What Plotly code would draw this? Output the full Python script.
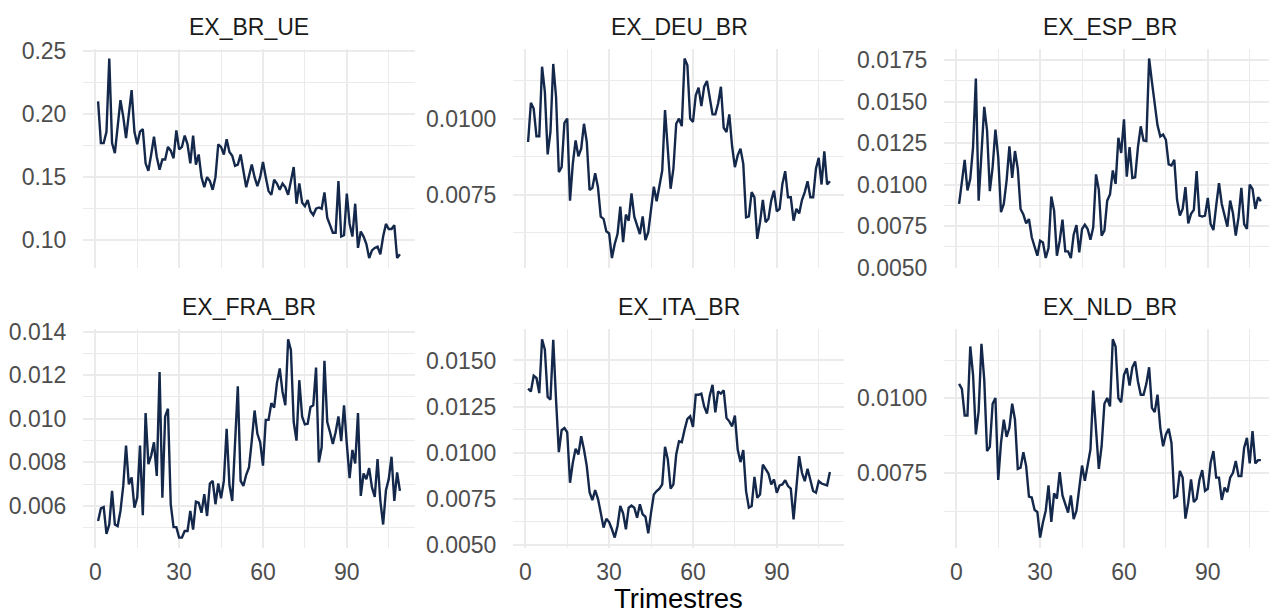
import plotly.graph_objects as go

W, H = 1269, 615

trimestres = list(range(1, 110))

series_names = ["EX_BR_UE", "EX_DEU_BR", "EX_ESP_BR", "EX_FRA_BR", "EX_ITA_BR", "EX_NLD_BR"]

ex_br_ue = [0.210, 0.177, 0.177, 0.186, 0.244, 0.177, 0.169, 0.190, 0.211, 0.198,
            0.181, 0.200, 0.219, 0.186, 0.176, 0.186, 0.188, 0.161, 0.155, 0.168,
            0.182, 0.166, 0.156, 0.164, 0.164, 0.174, 0.171, 0.165, 0.187, 0.172,
            0.174, 0.183, 0.176, 0.161, 0.183, 0.160, 0.168, 0.150, 0.142, 0.150,
            0.147, 0.140, 0.150, 0.176, 0.174, 0.168, 0.180, 0.170, 0.167, 0.159,
            0.160, 0.168, 0.154, 0.142, 0.151, 0.160, 0.150, 0.143, 0.150, 0.162,
            0.150, 0.139, 0.136, 0.148, 0.145, 0.140, 0.145, 0.142, 0.136, 0.146,
            0.158, 0.129, 0.145, 0.130, 0.127, 0.132, 0.123, 0.120, 0.125, 0.126,
            0.125, 0.138, 0.118, 0.112, 0.106, 0.106, 0.147, 0.103, 0.104, 0.137,
            0.113, 0.103, 0.129, 0.094, 0.107, 0.103, 0.097, 0.086, 0.092, 0.094,
            0.095, 0.089, 0.103, 0.113, 0.109, 0.109, 0.112, 0.086, 0.089]

ex_deu_br = [0.00923, 0.01052, 0.01033, 0.00942, 0.00942, 0.01171, 0.01088, 0.00882, 0.00956, 0.01180,
             0.01072, 0.00824, 0.00840, 0.00986, 0.01000, 0.00730, 0.00851, 0.00928, 0.00876, 0.00901,
             0.00983, 0.00923, 0.00765, 0.00772, 0.00820, 0.00774, 0.00677, 0.00670, 0.00629, 0.00622,
             0.00541, 0.00587, 0.00620, 0.00710, 0.00593, 0.00684, 0.00664, 0.00754, 0.00677, 0.00648,
             0.00620, 0.00678, 0.00600, 0.00626, 0.00697, 0.00776, 0.00728, 0.00774, 0.00829, 0.01028,
             0.00884, 0.00769, 0.00835, 0.00983, 0.01000, 0.00975, 0.01198, 0.01176, 0.01000, 0.00989,
             0.01077, 0.01102, 0.01041, 0.01105, 0.01124, 0.01061, 0.01014, 0.01014, 0.01050, 0.01105,
             0.00970, 0.00956, 0.01014, 0.00909, 0.00840, 0.00879, 0.00901, 0.00851, 0.00675, 0.00678,
             0.00758, 0.00741, 0.00604, 0.00659, 0.00732, 0.00659, 0.00670, 0.00730, 0.00763, 0.00695,
             0.00703, 0.00785, 0.00827, 0.00741, 0.00741, 0.00664, 0.00703, 0.00688, 0.00732, 0.00758,
             0.00794, 0.00741, 0.00741, 0.00835, 0.00871, 0.00783, 0.00892, 0.00783, 0.00794]

ex_esp_br = [0.00883, 0.01014, 0.01149, 0.00964, 0.01034, 0.01226, 0.01639, 0.00903, 0.01196, 0.01468,
             0.01327, 0.00960, 0.01105, 0.01331, 0.01165, 0.00833, 0.00883, 0.01024, 0.01230, 0.01040,
             0.01202, 0.01095, 0.00853, 0.00819, 0.00766, 0.00792, 0.00682, 0.00625, 0.00571, 0.00661,
             0.00651, 0.00557, 0.00617, 0.00928, 0.00843, 0.00571, 0.00661, 0.00788, 0.00597, 0.00597,
             0.00557, 0.00698, 0.00756, 0.00591, 0.00732, 0.00758, 0.00732, 0.00667, 0.00742, 0.01061,
             0.00968, 0.00692, 0.00722, 0.00903, 0.00940, 0.01085, 0.01004, 0.01282, 0.01190, 0.01393,
             0.01048, 0.01226, 0.01040, 0.01044, 0.01226, 0.01351, 0.01266, 0.01262, 0.01760, 0.01619,
             0.01478, 0.01357, 0.01290, 0.01302, 0.01270, 0.01121, 0.01115, 0.01149, 0.00907, 0.00813,
             0.00853, 0.00984, 0.00766, 0.00823, 0.00847, 0.01081, 0.00813, 0.00807, 0.00813, 0.00919,
             0.00762, 0.00726, 0.00873, 0.01008, 0.00883, 0.00819, 0.00746, 0.00903, 0.00827, 0.00692,
             0.00803, 0.00980, 0.00762, 0.00732, 0.01000, 0.00974, 0.00853, 0.00923, 0.00899]

ex_fra_br = [0.00531, 0.00589, 0.00595, 0.00472, 0.00515, 0.00669, 0.00515, 0.00508, 0.00577, 0.00692,
             0.00877, 0.00700, 0.00731, 0.00592, 0.00638, 0.00877, 0.00558, 0.01026, 0.00792, 0.00831,
             0.00892, 0.00738, 0.01215, 0.00638, 0.01011, 0.01046, 0.00608, 0.00503, 0.00503, 0.00455,
             0.00455, 0.00485, 0.00485, 0.00577, 0.00492, 0.00620, 0.00615, 0.00569, 0.00654, 0.00554,
             0.00703, 0.00715, 0.00608, 0.00703, 0.00635, 0.00715, 0.00954, 0.00697, 0.00623, 0.00885,
             0.01149, 0.00715, 0.00692, 0.00743, 0.00777, 0.00900, 0.01038, 0.00931, 0.00892, 0.00785,
             0.00995, 0.00995, 0.01072, 0.01051, 0.01165, 0.01231, 0.01123, 0.01062, 0.01365, 0.01315,
             0.00985, 0.00900, 0.01177, 0.01011, 0.00974, 0.00977, 0.01054, 0.01062, 0.01235, 0.00800,
             0.00869, 0.01266, 0.00985, 0.00938, 0.00885, 0.00938, 0.01011, 0.00897, 0.01062, 0.00885,
             0.00728, 0.00857, 0.00795, 0.01026, 0.00646, 0.00749, 0.00723, 0.00774, 0.00685, 0.00642,
             0.00815, 0.00623, 0.00515, 0.00672, 0.00723, 0.00826, 0.00623, 0.00754, 0.00669]

ex_ita_br = [0.01347, 0.01332, 0.01417, 0.01405, 0.01323, 0.01615, 0.01558, 0.01302, 0.01287, 0.01612,
             0.01287, 0.01003, 0.01122, 0.01134, 0.01111, 0.00837, 0.00945, 0.01021, 0.00990, 0.01089,
             0.01017, 0.00927, 0.00786, 0.00743, 0.00797, 0.00750, 0.00675, 0.00594, 0.00642, 0.00624,
             0.00585, 0.00540, 0.00603, 0.00711, 0.00671, 0.00585, 0.00702, 0.00714, 0.00702, 0.00648,
             0.00720, 0.00666, 0.00653, 0.00563, 0.00675, 0.00774, 0.00792, 0.00805, 0.00828, 0.01032,
             0.00963, 0.00805, 0.00828, 0.00990, 0.01062, 0.01057, 0.01125, 0.01183, 0.01197, 0.01140,
             0.01314, 0.01314, 0.01320, 0.01251, 0.01212, 0.01309, 0.01368, 0.01219, 0.01332, 0.01320,
             0.01338, 0.01188, 0.01170, 0.01143, 0.01201, 0.01017, 0.00949, 0.01014, 0.00792, 0.00702,
             0.00711, 0.00869, 0.00756, 0.00774, 0.00936, 0.00913, 0.00887, 0.00828, 0.00855, 0.00783,
             0.00823, 0.00828, 0.00851, 0.00819, 0.00805, 0.00639, 0.00810, 0.00981, 0.00891, 0.00846,
             0.00913, 0.00855, 0.00792, 0.00783, 0.00846, 0.00833, 0.00828, 0.00823, 0.00895]

ex_nld_br = [0.01047, 0.01030, 0.00942, 0.00942, 0.01171, 0.01077, 0.00879, 0.00956, 0.01180, 0.01061,
             0.00824, 0.00838, 0.00981, 0.01000, 0.00728, 0.00851, 0.00928, 0.00871, 0.00901, 0.00981,
             0.00928, 0.00765, 0.00769, 0.00820, 0.00774, 0.00673, 0.00670, 0.00629, 0.00622, 0.00537,
             0.00587, 0.00626, 0.00710, 0.00589, 0.00684, 0.00666, 0.00754, 0.00677, 0.00648, 0.00620,
             0.00677, 0.00598, 0.00626, 0.00697, 0.00776, 0.00725, 0.00774, 0.00829, 0.01025, 0.00882,
             0.00765, 0.00840, 0.00981, 0.01000, 0.00972, 0.01195, 0.01171, 0.01000, 0.00986, 0.01077,
             0.01099, 0.01041, 0.01102, 0.01121, 0.01055, 0.01011, 0.01011, 0.01047, 0.01102, 0.00967,
             0.00953, 0.01011, 0.00901, 0.00840, 0.00879, 0.00898, 0.00851, 0.00670, 0.00675, 0.00758,
             0.00736, 0.00600, 0.00653, 0.00730, 0.00655, 0.00666, 0.00728, 0.00761, 0.00692, 0.00699,
             0.00785, 0.00824, 0.00736, 0.00736, 0.00662, 0.00703, 0.00688, 0.00736, 0.00752, 0.00791,
             0.00741, 0.00741, 0.00835, 0.00868, 0.00783, 0.00890, 0.00783, 0.00794, 0.00794]

x_major = [0, 30, 60, 90]
x_minor = [15, 45, 75, 105]
x_tick_labels = ["0", "30", "60", "90"]

y_major = [
    [0.10, 0.15, 0.20, 0.25],
    [0.0075, 0.0100],
    [0.0050, 0.0075, 0.0100, 0.0125, 0.0150, 0.0175],
    [0.006, 0.008, 0.010, 0.012, 0.014],
    [0.0050, 0.0075, 0.0100, 0.0125, 0.0150],
    [0.0075, 0.0100],
]
y_tick_labels = [
    ["0.10", "0.15", "0.20", "0.25"],
    ["0.0075", "0.0100"],
    ["0.0050", "0.0075", "0.0100", "0.0125", "0.0150", "0.0175"],
    ["0.006", "0.008", "0.010", "0.012", "0.014"],
    ["0.0050", "0.0075", "0.0100", "0.0125", "0.0150"],
    ["0.0075", "0.0100"],
]
y_minor = [
    [0.125, 0.175, 0.225],
    [0.00625, 0.00875, 0.01125],
    [0.00625, 0.00875, 0.01125, 0.01375, 0.01625],
    [0.005, 0.007, 0.009, 0.011, 0.013],
    [0.00625, 0.00875, 0.01125, 0.01375],
    [0.00625, 0.00875, 0.01125],
]

all_series = [ex_br_ue, ex_deu_br, ex_esp_br, ex_fra_br, ex_ita_br, ex_nld_br]

LINE = "#14284B"
GRID = "#EBEBEB"
FONT = "Liberation Sans, Arial, sans-serif"

# pixel layout
col_px = [(83, 415), (513, 844), (944, 1269)]
row_px = [(48.5, 268), (329.3, 547.5)]
x_lo = -4.4
px_per_unit = (415 - 83) / 118.8

fig = go.Figure()
layout = dict(
    template="none",
    width=W, height=H,
    margin=dict(l=0, r=0, t=0, b=0, pad=0, autoexpand=False),
    paper_bgcolor="white", plot_bgcolor="white",
    showlegend=False,
    font=dict(family=FONT),
)
annotations = []

for k, (name, vals) in enumerate(zip(series_names, all_series)):
    r, c = divmod(k, 3)
    ax = "" if k == 0 else str(k + 1)
    fig.add_trace(go.Scatter(
        x=trimestres, y=vals, mode="lines",
        line=dict(color=LINE, width=2.4),
        xaxis="x" + ax, yaxis="y" + ax, hoverinfo="skip",
    ))
    x0, x1 = col_px[c]
    y0, y1 = row_px[r]
    x_hi = x_lo + (x1 - x0) / px_per_unit
    vmin, vmax = min(vals), max(vals)
    pad = 0.05 * (vmax - vmin)
    layout["xaxis" + ax] = dict(
        domain=[x0 / W, x1 / W], anchor="y" + ax,
        range=[x_lo, x_hi], automargin=False,
        tickvals=x_major, ticktext=x_tick_labels,
        showticklabels=(r == 1),
        ticks="outside", ticklen=4, tickcolor="rgba(0,0,0,0)",
        tickfont=dict(size=23, color="#4D4D4D", family=FONT),
        showgrid=True, gridcolor=GRID, gridwidth=2,
        minor=dict(tickvals=x_minor, showgrid=True, gridcolor=GRID, gridwidth=1, ticks=""),
        zeroline=False, showline=False, fixedrange=True,
    )
    layout["yaxis" + ax] = dict(
        domain=[1 - y1 / H, 1 - y0 / H], anchor="x" + ax,
        range=[vmin - pad, vmax + pad], automargin=False,
        tickvals=y_major[k], ticktext=y_tick_labels[k],
        ticks="outside", ticklen=11, tickcolor="rgba(0,0,0,0)",
        tickfont=dict(size=23, color="#4D4D4D", family=FONT),
        showgrid=True, gridcolor=GRID, gridwidth=2,
        minor=dict(tickvals=y_minor[k], showgrid=True, gridcolor=GRID, gridwidth=1, ticks=""),
        zeroline=False, showline=False, fixedrange=True,
    )
    strip_y = [27, 307][r]
    annotations.append(dict(
        text=name, x=((x0 + (x0 + 332)) / 2) / W, y=1 - strip_y / H,
        xref="paper", yref="paper", xanchor="center", yanchor="middle",
        showarrow=False, font=dict(size=23, color="#1A1A1A", family=FONT),
    ))

annotations.append(dict(
    text="Trimestres", x=678 / W, y=0,
    xref="paper", yref="paper", xanchor="center", yanchor="bottom",
    borderpad=0, showarrow=False,
    font=dict(size=27.5, color="#000000", family=FONT),
))
layout["annotations"] = annotations
fig.update_layout(**layout)
fig.write_html("out.html")
